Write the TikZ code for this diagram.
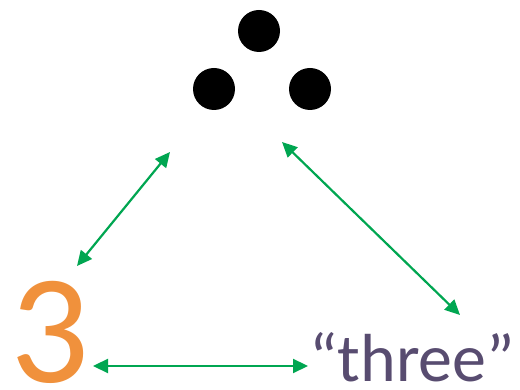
\documentclass[tikz,border=0pt]{standalone}
\usepackage{fontspec}
\setmainfont{Carlito}
\usepackage{tikz}
\usetikzlibrary{arrows.meta,positioning}

\definecolor{arrowgreen}{RGB}{0,166,81}
\definecolor{numorange}{RGB}{240,145,60}
\definecolor{wordpurple}{RGB}{88,76,112}

\begin{document}
\begin{tikzpicture}[x=1pt,y=1pt,
  dot/.style={circle,fill=black,minimum size=42pt,inner sep=0pt},
  link/.style={{Triangle[length=15pt,width=14pt]}-{Triangle[length=15pt,width=14pt]},arrowgreen,line width=2.2pt}]
  \useasboundingbox (0,0) rectangle (520,390);
  % the three dots
  \node (dtop) [dot] at (259,359) {};
  \node (dleft) [dot] at (214,301) {};
  \node (dright) [dot] at (310,301) {};
  % numeral and word
  \node (num) [anchor=base,inner sep=0pt,text=numorange,font=\fontsize{156}{156}\selectfont] at (50,7) {3};
  \node (word) [anchor=base west,inner sep=0pt,text=wordpurple,font=\fontsize{68}{68}\selectfont] at (309,8) {“three”};
  % arrow ends
  \coordinate (a1) at (170,238);
  \coordinate (a2) at (77,124);
  \coordinate (b1) at (282,248);
  \coordinate (b2) at (460,75);
  \coordinate (c1) at (93,24);
  \coordinate (c2) at (308,24);
  \draw[link] (a1) -- (a2);
  \draw[link] (b1) -- (b2);
  \draw[link] (c1) -- (c2);
\end{tikzpicture}
\end{document}
